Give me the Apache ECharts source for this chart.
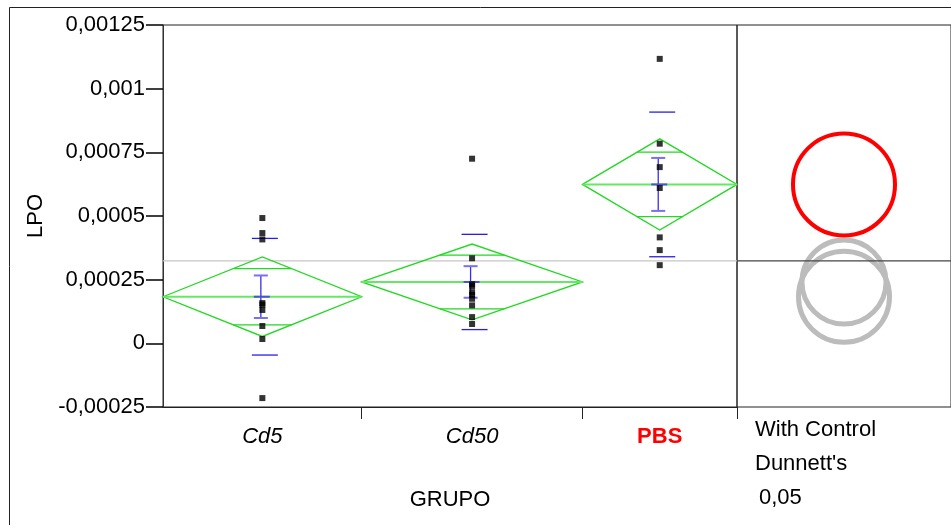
<!DOCTYPE html>
<html>
<head>
<meta charset="utf-8">
<script src="https://cdn.jsdelivr.net/npm/echarts@6.0.0/dist/echarts.min.js"></script>
<style>
html,body{margin:0;padding:0;background:#fff;}
#chart{width:951px;height:525px;}
</style>
</head>
<body>
<div id="chart"></div>
<script>
// ---- data ----
const groups = ['Cd5', 'Cd50', 'PBS'];
const groupN = [9, 10, 7];
const cd5Values = [0.000492, 0.000433, 0.000408, 0.000158, 0.000152, 0.000131, 0.000068, 0.000017, -0.000215];
const cd50Values = [0.000725, 0.000334, 0.000232, 0.000225, 0.000201, 0.000190, 0.000175, 0.000149, 0.000103, 0.000076];
const pbsValues = [0.001117, 0.000784, 0.000692, 0.000610, 0.000416, 0.000366, 0.000307];
const groupMeans = [0.000183, 0.000241, 0.000624];
const diamondCI = [0.000156, 0.000149, 0.000179];
const stdDev = [0.000229, 0.000187, 0.000284];
const stdErr = [0.0000835, 0.000062, 0.000104];
const grandMean = 0.000324;
const circleRadius = [0.0001787, 0.000165, 0.0002003];
const controlGroup = 'PBS';
const yMin = -0.00025, yMax = 0.00125, yStep = 0.00025;
const comparisonText = ['With Control', "Dunnett's", '0,05'];

// ---- derived positions on the group axis (widths proportional to n) ----
const starts = [], ends = [], centers = [];
let acc = 0;
groupN.forEach((n) => { starts.push(acc); ends.push(acc + n); centers.push(acc + n / 2); acc += n; });
const total = acc;
const allValues = [cd5Values, cd50Values, pbsValues];

const FONT = '"Liberation Sans", Arial, sans-serif';
const FS = 22;

const pointData = [];
allValues.forEach((vals, g) => vals.forEach(v => pointData.push([centers[g], v])));

const diamondData = groups.map((g, i) => [starts[i], ends[i], groupMeans[i], diamondCI[i]]);
const barData = groups.map((g, i) => [centers[i], groupMeans[i], stdDev[i], stdErr[i]]);
const circleData = groups.map((g, i) => [0.5, groupMeans[i], circleRadius[i], g === controlGroup ? 1 : 0])
  .sort((a, b) => a[3] - b[3]);

function fmt(v) {
  const s = parseFloat(Number(v).toPrecision(6));
  return String(s).replace('.', ',');
}

const GREEN = '#22d822';

function renderDiamond(params, api) {
  const x0 = api.value(0), x1 = api.value(1), m = api.value(2), ci = api.value(3);
  const xc = (x0 + x1) / 2;
  const L = api.coord([x0, m]), R = api.coord([x1, m]);
  const T = api.coord([xc, m + ci]), B = api.coord([xc, m - ci]);
  const C = api.coord([xc, m]);
  const hw = (R[0] - L[0]) / 2;
  const ow = hw * (1 - Math.SQRT1_2);
  const oyT = api.coord([xc, m + ci * Math.SQRT1_2])[1];
  const oyB = api.coord([xc, m - ci * Math.SQRT1_2])[1];
  const style = { stroke: GREEN, fill: null, lineWidth: 1.3 };
  return {
    type: 'group',
    children: [
      { type: 'polygon', shape: { points: [L, T, R, B] }, style: style },
      { type: 'line', shape: { x1: L[0], y1: C[1], x2: R[0], y2: C[1] }, style: { stroke: '#66e866', lineWidth: 2 } },
      { type: 'line', shape: { x1: C[0] - ow, y1: oyT, x2: C[0] + ow, y2: oyT }, style: style },
      { type: 'line', shape: { x1: C[0] - ow, y1: oyB, x2: C[0] + ow, y2: oyB }, style: style }
    ]
  };
}

function renderBars(params, api) {
  const xc = api.value(0), m = api.value(1), sd = api.value(2), se = api.value(3);
  const C = api.coord([xc, m]);
  const sdHi = api.coord([xc, m + sd])[1], sdLo = api.coord([xc, m - sd])[1];
  const seHi = api.coord([xc, m + se])[1], seLo = api.coord([xc, m - se])[1];
  const sx = C[0] + 2.5, ex = C[0] - 1.5;
  const sdStyle = { stroke: '#2a1ee6', lineWidth: 1.3 };
  const capStyle = { stroke: '#7a70f2', lineWidth: 2 };
  return {
    type: 'group',
    children: [
      { type: 'line', shape: { x1: sx - 13, y1: sdHi, x2: sx + 13, y2: sdHi }, style: sdStyle },
      { type: 'line', shape: { x1: sx - 13, y1: sdLo, x2: sx + 13, y2: sdLo }, style: sdStyle },
      { type: 'line', shape: { x1: ex, y1: seHi, x2: ex, y2: seLo }, style: { stroke: '#3a2ee8', lineWidth: 1.3 } },
      { type: 'line', shape: { x1: ex - 7, y1: seHi, x2: ex + 7, y2: seHi }, style: capStyle },
      { type: 'line', shape: { x1: ex - 7, y1: seLo, x2: ex + 7, y2: seLo }, style: capStyle },
      { type: 'line', shape: { x1: ex - 7, y1: C[1], x2: ex + 9, y2: C[1] }, style: { stroke: '#4a52d8', lineWidth: 2 } }
    ]
  };
}

function renderHLine(color, width) {
  return function (params, api) {
    const a = api.coord([api.value(0), api.value(2)]);
    const b = api.coord([api.value(1), api.value(2)]);
    return { type: 'line', shape: { x1: a[0], y1: a[1], x2: b[0], y2: b[1] }, style: { stroke: color, lineWidth: width } };
  };
}

function renderCircle(params, api) {
  const c = api.coord([api.value(0), api.value(1)]);
  const r = api.size([0, api.value(2)])[1];
  const ctl = api.value(3) === 1;
  return {
    type: 'circle',
    shape: { cx: c[0], cy: c[1], r: r },
    style: { stroke: ctl ? '#ff0000' : '#bcbcbc', fill: null, lineWidth: ctl ? 4 : 5 }
  };
}

const chart = echarts.init(document.getElementById('chart'), null, { renderer: 'canvas' });

const option = {
  backgroundColor: '#ffffff',
  animation: false,
  textStyle: { fontFamily: FONT },
  grid: [
    { left: 163, right: 214, top: 25, bottom: 118, show: true, borderColor: '#222', borderWidth: 1 },
    { left: 737, right: -3, top: 25, bottom: 118, show: true, borderColor: '#222', borderWidth: 1 }
  ],
  xAxis: [
    {
      type: 'value', gridIndex: 0, min: 0, max: total, position: 'bottom',
      name: 'GRUPO', nameLocation: 'middle', nameGap: 82,
      nameTextStyle: { fontFamily: FONT, fontSize: FS, color: '#000' },
      axisLine: { show: true, onZero: false, lineStyle: { color: '#222', width: 1 } },
      axisTick: { show: true, length: 12, customValues: [starts[1], starts[2], total], lineStyle: { color: '#222' } },
      axisLabel: {
        show: true, margin: 19, customValues: centers,
        formatter: function (v) {
          let idx = 0, best = Infinity;
          centers.forEach((c, i) => { if (Math.abs(c - v) < best) { best = Math.abs(c - v); idx = i; } });
          const name = groups[idx];
          return name === controlGroup ? '{ctl|' + name + '}' : '{it|' + name + '}';
        },
        rich: {
          it: { fontFamily: FONT, fontSize: FS, fontStyle: 'italic', color: '#000' },
          ctl: { fontFamily: FONT, fontSize: FS, fontWeight: 'bold', color: '#ff0000' }
        }
      },
      splitLine: { show: false }
    },
    {
      type: 'value', gridIndex: 1, min: 0, max: 1, show: false
    }
  ],
  yAxis: [
    {
      type: 'value', gridIndex: 0, min: yMin, max: yMax, interval: yStep, position: 'left',
      name: 'LPO', nameLocation: 'middle', nameGap: 116, nameRotate: 90,
      nameTextStyle: { fontFamily: FONT, fontSize: FS, color: '#000' },
      axisLine: { show: true, onZero: false, lineStyle: { color: '#333', width: 1 } },
      axisTick: { show: true, inside: false, length: 17, lineStyle: { color: '#000', width: 1.5 } },
      axisLabel: { show: true, margin: 18, formatter: fmt, fontFamily: FONT, fontSize: FS, color: '#000' },
      splitLine: { show: false }
    },
    {
      type: 'value', gridIndex: 1, min: yMin, max: yMax, interval: yStep, show: false
    }
  ],
  graphic: [
    { type: 'line', shape: { x1: 9.5, y1: 7.5, x2: 951, y2: 7.5 }, style: { stroke: '#222', lineWidth: 1 }, silent: true },
    { type: 'line', shape: { x1: 9.5, y1: 7.5, x2: 9.5, y2: 525 }, style: { stroke: '#222', lineWidth: 1 }, silent: true },
    { type: 'text', x: 755, y: 430, style: { text: comparisonText[0], fontFamily: FONT, fontSize: FS, fill: '#000', align: 'left', verticalAlign: 'middle', textAlign: 'left', textVerticalAlign: 'middle' }, silent: true },
    { type: 'text', x: 755, y: 464, style: { text: comparisonText[1], fontFamily: FONT, fontSize: FS, fill: '#000', align: 'left', verticalAlign: 'middle', textAlign: 'left', textVerticalAlign: 'middle' }, silent: true },
    { type: 'text', x: 759, y: 498, style: { text: comparisonText[2], fontFamily: FONT, fontSize: FS, fill: '#000', align: 'left', verticalAlign: 'middle', textAlign: 'left', textVerticalAlign: 'middle' }, silent: true }
  ],
  series: [
    {
      type: 'custom', name: 'grand mean', xAxisIndex: 0, yAxisIndex: 0, z: 1,
      renderItem: renderHLine('#c6c6c6', 1.3), data: [[0, total, grandMean]], silent: true
    },
    {
      type: 'custom', name: 'means diamonds', xAxisIndex: 0, yAxisIndex: 0, z: 2,
      renderItem: renderDiamond, data: diamondData, silent: true
    },
    {
      type: 'custom', name: 'std dev / error bars', xAxisIndex: 0, yAxisIndex: 0, z: 3,
      renderItem: renderBars, data: barData, silent: true
    },
    {
      type: 'scatter', name: 'LPO', xAxisIndex: 0, yAxisIndex: 0, z: 4,
      symbol: 'rect', symbolSize: 6, itemStyle: { color: '#000' }, data: pointData, silent: true
    },
    {
      type: 'custom', name: 'comparison circles', xAxisIndex: 1, yAxisIndex: 1, z: 2,
      renderItem: renderCircle, data: circleData, silent: true
    },
    {
      type: 'custom', name: 'grand mean panel', xAxisIndex: 1, yAxisIndex: 1, z: 3,
      renderItem: renderHLine('#444', 1.2), data: [[0, 1, grandMean]], silent: true
    }
  ]
};

chart.setOption(option);
</script>
</body>
</html>
